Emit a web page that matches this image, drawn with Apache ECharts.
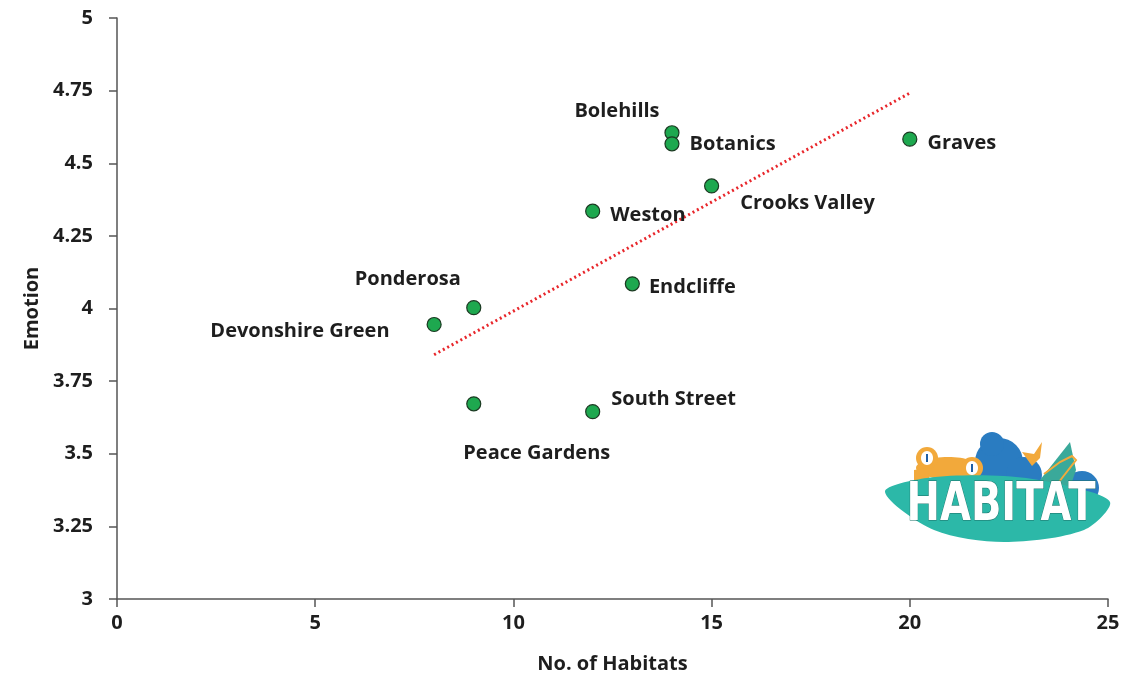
<!DOCTYPE html>
<html><head><meta charset="utf-8">
<script src="https://cdn.jsdelivr.net/npm/echarts@6/dist/echarts.min.js"></script>
<style>html,body{margin:0;padding:0;background:#fff}#c{width:1148px;height:679px}</style>
</head><body><div id="c"></div>
<script>
const sites = ['Bolehills','Botanics','Graves','Crooks Valley','Weston','Endcliffe','Ponderosa','Devonshire Green','Peace Gardens','South Street'];
const habitats = [14, 14, 20, 15, 12, 13, 9, 8, 9, 12];
const emotion = [4.605, 4.567, 4.583, 4.422, 4.335, 4.085, 4.003, 3.945, 3.672, 3.645];
const xTicks = [0, 5, 10, 15, 20, 25];
const yTicks = [3, 3.25, 3.5, 3.75, 4, 4.25, 4.5, 4.75, 5];

// label placement (style only)
const labelPos = {
  'Bolehills': {position: 'top', offset: [-55, 1]},
  'Botanics': {position: 'right', offset: [5, 1]},
  'Graves': {position: 'right', offset: [5, 4]},
  'Crooks Valley': {position: 'right', offset: [16, 17]},
  'Weston': {position: 'right', offset: [5, 4]},
  'Endcliffe': {position: 'right', offset: [4, 3]},
  'Ponderosa': {position: 'top', offset: [-66, -6]},
  'Devonshire Green': {position: 'left', offset: [-32, 7]},
  'Peace Gardens': {position: 'bottom', offset: [63, 27]},
  'South Street': {position: 'right', offset: [6, -12]}
};

// least squares trendline from the data
const n = habitats.length;
const mx = habitats.reduce((a,b)=>a+b,0)/n;
const my = emotion.reduce((a,b)=>a+b,0)/n;
let sxy = 0, sxx = 0;
for (let i=0;i<n;i++){ sxy += (habitats[i]-mx)*(emotion[i]-my); sxx += (habitats[i]-mx)**2; }
const slope = sxy/sxx, icpt = my - slope*mx;
const xmin = Math.min(...habitats), xmax = Math.max(...habitats);
const trend = [[xmin, icpt+slope*xmin],[xmax, icpt+slope*xmax]];

const font = '"Open Sans", "DejaVu Sans", sans-serif';
const txt = {fontFamily: font, fontWeight: 'bold', fontSize: 20, color: '#1e1e1e'};
const chart = echarts.init(document.getElementById('c'));
chart.setOption({
  animation: false,
  grid: {left: 117, right: 40, top: 18, bottom: 76},
  xAxis: {
    type: 'value', min: xTicks[0], max: xTicks[xTicks.length-1], interval: 5,
    name: 'No. of Habitats', nameLocation: 'middle', nameGap: 55,
    nameTextStyle: txt,
    axisLine: {show: true, onZero: false, lineStyle: {color: '#555', width: 1.5}},
    axisTick: {show: true, length: 8, inside: false, lineStyle: {color: '#555', width: 1.5}},
    axisLabel: Object.assign({margin: 14}, txt),
    splitLine: {show: false}
  },
  yAxis: {
    type: 'value', min: yTicks[0], max: yTicks[yTicks.length-1], interval: 0.25,
    name: 'Emotion', nameLocation: 'middle', nameGap: 74, nameRotate: 90,
    nameTextStyle: txt,
    axisLine: {show: true, onZero: false, lineStyle: {color: '#555', width: 1.5}},
    axisTick: {show: true, length: 8, lineStyle: {color: '#555', width: 1.5}},
    axisLabel: Object.assign({margin: 24, formatter: v => String(+v.toFixed(2))}, txt),
    splitLine: {show: false}
  },
  series: [
    {
      type: 'line', data: trend, showSymbol: false, symbol: 'none', z: 1,
      lineStyle: {color: '#e8262b', width: 3, type: [2, 3]}
    },
    {
      type: 'scatter', z: 3, symbolSize: 14,
      itemStyle: {color: '#1ea84f', borderColor: '#1b3a22', borderWidth: 1.2, opacity: 1},
      data: sites.map((s,i)=>({
        name: s, value: [habitats[i], emotion[i]],
        label: Object.assign({show: true, formatter: s, position: labelPos[s].position, offset: labelPos[s].offset}, txt)
      }))
    }
  ],
  graphic: [{
    type: 'group', x: 884, y: 430, children: [
      // blue cloud
      {type:'circle', shape:{cx:115,cy:32,r:24}, style:{fill:'#2a7cc1'}},
      {type:'circle', shape:{cx:108,cy:14,r:12}, style:{fill:'#2a7cc1'}},
      {type:'circle', shape:{cx:140,cy:45,r:18}, style:{fill:'#2a7cc1'}},
      {type:'circle', shape:{cx:180,cy:52,r:15}, style:{fill:'#2a7cc1'}},
      {type:'circle', shape:{cx:198,cy:58,r:17}, style:{fill:'#2a7cc1'}},
      // teal tree
      {type:'polygon', shape:{points:[[156,50],[186,12],[192,40],[180,75],[156,75]]}, style:{fill:'#3aa99a'}},
      {type:'polyline', shape:{points:[[160,44],[176,32],[188,26],[192,30],[178,48],[166,64]]}, style:{stroke:'#f2a93b', lineWidth:2, fill:null}},
      // bird
      {type:'polygon', shape:{points:[[138,22],[150,24],[158,12],[156,28],[148,36]]}, style:{fill:'#f2a93b'}},
      // frog
      {type:'ellipse', shape:{cx:64,cy:38,rx:32,ry:11}, style:{fill:'#f2a93b'}},
      {type:'polygon', shape:{points:[[30,40],[44,38],[46,52],[30,52]]}, style:{fill:'#f2a93b'}},
      {type:'circle', shape:{cx:43,cy:28,r:11}, style:{fill:'#f2a93b'}},
      {type:'circle', shape:{cx:88,cy:38,r:11}, style:{fill:'#f2a93b'}},
      {type:'ellipse', shape:{cx:43,cy:28,rx:6,ry:7}, style:{fill:'#fff'}},
      {type:'ellipse', shape:{cx:88,cy:38,rx:6,ry:7}, style:{fill:'#fff'}},
      {type:'rect', shape:{x:42,y:24,width:2,height:8}, style:{fill:'#1f5fa5'}},
      {type:'rect', shape:{x:87,y:34,width:2,height:8}, style:{fill:'#1f5fa5'}},
      // teal leaf base
      {type:'polygon', shape:{smooth: 0.3, points:[[1,62],[43,48],[120,46],[180,55],[226,72],[200,100],[120,112],[50,100]]}, style:{fill:'#2cb8a8'}},
      {type:'text', x:117, y:76, scaleX:0.74, style:{text:'HABITAT', x:0, y:0, align:'center', verticalAlign:'middle',
        font:'bold 54px "DejaVu Sans", sans-serif', fill:'#fff', stroke:'#1d6f66', lineWidth:1}}
    ]
  }]
});
</script></body></html>
